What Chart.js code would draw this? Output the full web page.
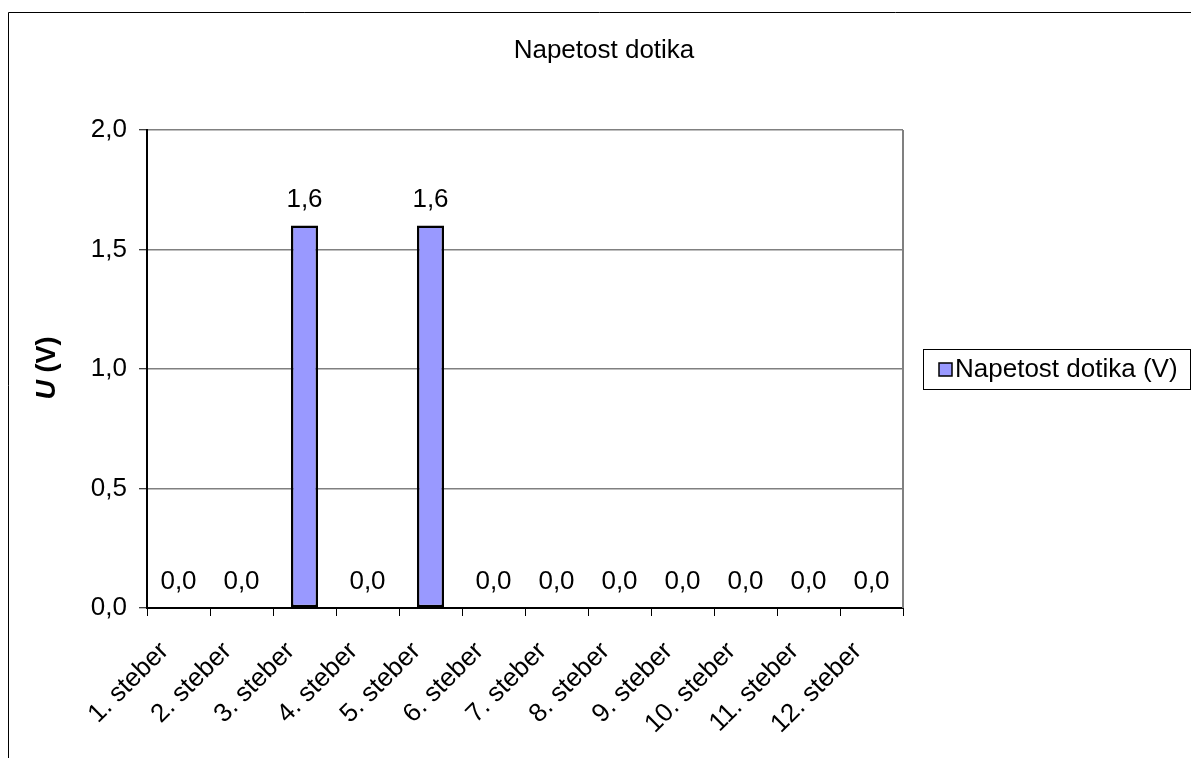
<!DOCTYPE html>
<html>
<head>
<meta charset="utf-8">
<script src="https://cdn.jsdelivr.net/npm/chart.js@4/dist/chart.umd.min.js"></script>
<style>
  html, body { margin: 0; padding: 0; background: #ffffff; }
  #wrap { width: 1191px; height: 758px; position: relative; }
</style>
</head>
<body>
<div id="wrap"><canvas id="chart" width="1191" height="758"></canvas></div>
<script>
// Contact voltage per pole
const categories = ['1. steber', '2. steber', '3. steber', '4. steber', '5. steber', '6. steber',
                    '7. steber', '8. steber', '9. steber', '10. steber', '11. steber', '12. steber'];
const voltages = [0.0, 0.0, 1.6, 0.0, 1.6, 0.0, 0.0, 0.0, 0.0, 0.0, 0.0, 0.0];
const yTickValues = [0.0, 0.5, 1.0, 1.5, 2.0];

const chartTitle = 'Napetost dotika';
const seriesName = 'Napetost dotika (V)';
const axisSymbol = 'U';
const axisUnit = ' (V)';

const FONT = '"Liberation Sans", Arial, sans-serif';
const FONT_SIZE = 26;
const BAR_FILL = '#9999ff';

function fmt(v) { return v.toFixed(1).replace('.', ','); }

// Frame, title, axis caption, legend, plot border and value labels
const decorations = {
  id: 'decorations',
  beforeDraw(chart) {
    const ctx = chart.ctx;
    ctx.save();
    ctx.fillStyle = '#ffffff';
    ctx.fillRect(0, 0, chart.width, chart.height);
    ctx.restore();
  },
  afterDraw(chart) {
    const ctx = chart.ctx;
    const area = chart.chartArea;
    ctx.save();

    // outer frame
    ctx.strokeStyle = '#000000';
    ctx.lineWidth = 1;
    ctx.beginPath();
    ctx.moveTo(8.5, chart.height);
    ctx.lineTo(8.5, 12.5);
    ctx.lineTo(chart.width, 12.5);
    ctx.stroke();

    // right plot border
    ctx.strokeStyle = '#808080';
    ctx.lineWidth = 2;
    ctx.beginPath();
    ctx.moveTo(area.right, area.top);
    ctx.lineTo(area.right, area.bottom);
    ctx.stroke();

    // title
    ctx.fillStyle = '#000000';
    ctx.font = FONT_SIZE + 'px ' + FONT;
    ctx.textAlign = 'center';
    ctx.textBaseline = 'middle';
    ctx.fillText(chartTitle, 604, 51);

    // y axis caption: italic symbol + unit, both bold
    ctx.save();
    ctx.translate(48, 368);
    ctx.rotate(-Math.PI / 2);
    ctx.textBaseline = 'middle';
    ctx.textAlign = 'left';
    ctx.font = 'italic bold 27px ' + FONT;
    const w1 = ctx.measureText(axisSymbol).width;
    ctx.font = 'bold 27px ' + FONT;
    const w2 = ctx.measureText(axisUnit).width;
    const start = -(w1 + w2) / 2;
    ctx.font = 'italic bold 27px ' + FONT;
    ctx.fillText(axisSymbol, start, 0);
    ctx.font = 'bold 27px ' + FONT;
    ctx.fillText(axisUnit, start + w1, 0);
    ctx.restore();

    // legend
    ctx.strokeStyle = '#000000';
    ctx.lineWidth = 1;
    ctx.strokeRect(923.5, 349.5, 267, 40);
    ctx.fillStyle = BAR_FILL;
    ctx.fillRect(939, 363, 13, 13);
    ctx.lineWidth = 1.5;
    ctx.strokeRect(939, 363, 13, 13);
    ctx.fillStyle = '#000000';
    ctx.font = FONT_SIZE + 'px ' + FONT;
    ctx.textAlign = 'left';
    ctx.textBaseline = 'middle';
    ctx.fillText(seriesName, 955, 370);

    // value labels above bars
    const meta = chart.getDatasetMeta(0);
    ctx.textAlign = 'center';
    ctx.textBaseline = 'alphabetic';
    meta.data.forEach((bar, i) => {
      ctx.fillText(fmt(chart.data.datasets[0].data[i]), bar.x, bar.y - 19);
    });

    ctx.restore();
  }
};

new Chart(document.getElementById('chart'), {
  type: 'bar',
  data: {
    labels: categories,
    datasets: [{
      label: seriesName,
      data: voltages,
      backgroundColor: BAR_FILL,
      borderColor: '#000000',
      borderWidth: 2.5,
      borderSkipped: false,
      categoryPercentage: 0.43,
      barPercentage: 1.0
    }]
  },
  options: {
    responsive: false,
    animation: false,
    devicePixelRatio: 1,
    layout: { padding: { top: 130, right: 288, left: 0, bottom: 0 } },
    plugins: {
      legend: { display: false },
      title: { display: false },
      tooltip: { enabled: false }
    },
    scales: {
      x: {
        offset: true,
        afterFit(scale) { scale.height = 150; },
        grid: {
          offset: true,
          drawOnChartArea: false,
          drawTicks: true,
          tickLength: 8,
          tickColor: '#000000',
          tickWidth: 1
        },
        border: { display: true, color: '#000000', width: 2 },
        ticks: {
          color: '#000000',
          font: { family: FONT, size: FONT_SIZE },
          minRotation: 45,
          maxRotation: 45,
          autoSkip: false,
          padding: 20,
          labelOffset: -14
        }
      },
      y: {
        min: 0,
        max: 2,
        afterFit(scale) { scale.width = 147; },
        afterBuildTicks(scale) {
          scale.ticks = yTickValues.map(v => ({ value: v }));
        },
        grid: {
          color: '#808080',
          lineWidth: 1.5,
          drawTicks: true,
          tickLength: 8,
          tickColor: '#000000',
          tickWidth: 1
        },
        border: { display: true, color: '#000000', width: 2 },
        ticks: {
          color: '#000000',
          font: { family: FONT, size: FONT_SIZE },
          padding: 12,
          callback: (v) => fmt(v)
        }
      }
    }
  },
  plugins: [decorations]
});
</script>
</body>
</html>
